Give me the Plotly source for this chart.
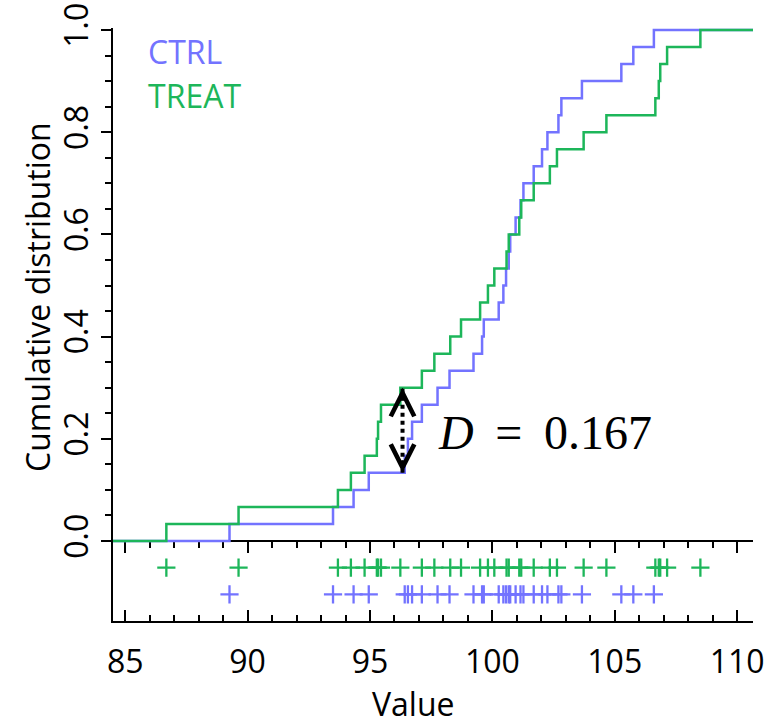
import numpy as np
import plotly.graph_objects as go

# ---- data ----
groups = ["CTRL", "TREAT"]
ctrl_values = [89.26, 93.49, 94.33, 94.95, 96.42, 96.55, 96.72, 97.12, 97.76, 98.25,
               99.23, 99.58, 99.65, 100.26, 100.45, 100.56, 100.67, 100.73, 100.95, 101.15,
               101.27, 101.69, 102.03, 102.25, 102.70, 102.82, 103.66, 105.27, 105.76, 106.60]
treat_values = [86.68, 89.63, 93.69, 94.22, 94.78, 95.28, 95.33, 95.45, 96.24, 97.12,
                97.63, 98.28, 98.72, 99.50, 99.82, 100.08, 100.58, 100.67, 101.10, 101.18,
                101.69, 102.35, 102.64, 103.73, 104.66, 106.66, 106.80, 106.86, 107.14, 108.50]
y_ticks = [0.0, 0.2, 0.4, 0.6, 0.8, 1.0]
y_tick_labels = ["0.0", "0.2", "0.4", "0.6", "0.8", "1.0"]
x_ticks = [85, 90, 95, 100, 105, 110]
x_tick_labels = ["85", "90", "95", "100", "105", "110"]

colors = {"CTRL": "#7373ff", "TREAT": "#1db65a"}
values = {"CTRL": ctrl_values, "TREAT": treat_values}

X_RANGE = [84.5, 110.65]
Y_RANGE = [-0.15656, 1.00394]
RUG_Y = {"TREAT": -0.0522, "CTRL": -0.1044}
FONT = "Open Sans"
FS = 32
BLACK = "#000000"
L, R, T, B = 113, 25, 28, 103
PW, PH = 778 - L - R, 724 - T - B
THIN = "\u2009"
NBSP = "\u00a0"


def px_to_paper(px, py):
    return (px - L) / PW, (724 - B - py) / PH


def ecdf_xy(vals):
    v = sorted(vals)
    n = len(v)
    xs = [X_RANGE[0]] + v + [X_RANGE[1]]
    ys = [0.0] + [(i + 1) / n for i in range(n)] + [1.0]
    return xs, ys


def ecdf_at(vals, x):
    arr = np.asarray(vals)
    return np.sum(arr <= x) / len(arr)


fig = go.Figure()

for g in groups:
    xs, ys = ecdf_xy(values[g])
    fig.add_trace(go.Scatter(x=xs, y=ys, mode="lines", line=dict(color=colors[g], width=2.5, shape="hv"),
                             showlegend=False, hoverinfo="skip"))

for g in groups:
    fig.add_trace(go.Scatter(x=values[g], y=[RUG_Y[g]] * len(values[g]), mode="markers", xaxis="x2",
                             marker=dict(symbol="cross-thin", size=13, line=dict(color=colors[g], width=2.3)),
                             showlegend=False, hoverinfo="skip"))

# Kolmogorov-Smirnov statistic
all_x = sorted(set(ctrl_values + treat_values))
diffs = np.array([abs(ecdf_at(treat_values, x) - ecdf_at(ctrl_values, x)) for x in all_x])
idx = int(np.argmax(np.round(diffs, 9)))
D = diffs[idx]
x_star = (all_x[idx] + all_x[idx + 1]) / 2
f_hi = max(ecdf_at(treat_values, all_x[idx]), ecdf_at(ctrl_values, all_x[idx]))
f_lo = min(ecdf_at(treat_values, all_x[idx]), ecdf_at(ctrl_values, all_x[idx]))

fig.add_trace(go.Scatter(x=[x_star, x_star], y=[f_lo, f_hi], mode="lines",
                         line=dict(color=BLACK, width=4, dash="dot"), showlegend=False, hoverinfo="skip"))

ytx, yty = px_to_paper(37, 297)
vx, vy = px_to_paper(413, 703)
d_text = "<i>D</i>" + THIN + NBSP + "=" + NBSP + THIN + f"{D:.3f}"
annotations = [
    dict(x=x_star, y=f_hi, xref="x", yref="y", text="", showarrow=True, ax=0, ay=14,
         arrowhead=5, arrowsize=2.1, arrowwidth=2.2, arrowcolor=BLACK),
    dict(x=x_star, y=f_lo, xref="x", yref="y", text="", showarrow=True, ax=0, ay=-14,
         arrowhead=5, arrowsize=2.1, arrowwidth=2.2, arrowcolor=BLACK),
    dict(x=x_star + 1.35, y=0.212, xref="x", yref="y", text=d_text, showarrow=False,
         xanchor="left", yanchor="middle", font=dict(family="Liberation Serif", size=48, color=BLACK)),
    dict(x=ytx, y=yty, xref="paper", yref="paper", text="Cumulative distribution", showarrow=False,
         textangle=-90, xanchor="center", yanchor="middle", font=dict(family=FONT, size=FS, color=BLACK)),
    dict(x=vx, y=vy, xref="paper", yref="paper", text="Value", showarrow=False,
         xanchor="center", yanchor="middle", font=dict(family=FONT, size=FS, color=BLACK)),
]
for g, py in zip(groups, [52, 95]):
    ax_, ay_ = px_to_paper(146, py)
    annotations.append(dict(x=ax_, y=ay_, xref="paper", yref="paper", text=g, showarrow=False,
                            xanchor="left", yanchor="middle", font=dict(family=FONT, size=FS, color=colors[g])))

minor_x = [v for v in range(85, 111) if v % 5]
fig.update_layout(
    width=778, height=724,
    margin=dict(l=L, r=R, t=T, b=B, autoexpand=False),
    paper_bgcolor="white", plot_bgcolor="white",
    font=dict(family=FONT, size=FS, color=BLACK),
    annotations=annotations,
    xaxis=dict(range=X_RANGE, showgrid=False, zeroline=False, showline=True, linecolor=BLACK, linewidth=1.8,
               ticks="inside", ticklen=11, tickwidth=1.8, tickcolor=BLACK, automargin=False,
               tickmode="array", tickvals=x_ticks, ticktext=x_tick_labels, ticklabelstandoff=12,
               minor=dict(tickmode="array", tickvals=minor_x,
                          ticks="inside", ticklen=6, tickwidth=1.8, tickcolor=BLACK, showgrid=False),
               tickfont=dict(family=FONT, size=FS, color=BLACK)),
    xaxis2=dict(range=X_RANGE, overlaying="x", anchor="free", position=80 / 593, side="bottom",
                showgrid=False, zeroline=False, showline=True, linecolor=BLACK, linewidth=1.8,
                ticks="outside", ticklen=11, tickwidth=1.8, tickcolor=BLACK, showticklabels=False,
                tickmode="array", tickvals=x_ticks, layer="below traces", automargin=False,
                minor=dict(tickmode="array", tickvals=minor_x,
                           ticks="outside", ticklen=6, tickwidth=1.8, tickcolor=BLACK, showgrid=False)),
    yaxis=dict(range=Y_RANGE, showgrid=False, zeroline=False, showline=True, linecolor=BLACK, linewidth=1.8,
               ticks="outside", ticklen=10, tickwidth=1.8, tickcolor=BLACK, automargin=False,
               tickmode="array", tickvals=y_ticks, ticktext=y_tick_labels, tickangle=-90,
               minor=dict(tickmode="array", tickvals=[round(0.05 * i, 2) for i in range(21) if i % 4],
                          ticks="outside", ticklen=6, tickwidth=1.8, tickcolor=BLACK, showgrid=False),
               tickfont=dict(family=FONT, size=FS, color=BLACK)),
)

fig.write_html("out.html", config={"displayModeBar": False},
               post_script="document.body.style.margin='0';document.body.style.overflow='hidden';")
